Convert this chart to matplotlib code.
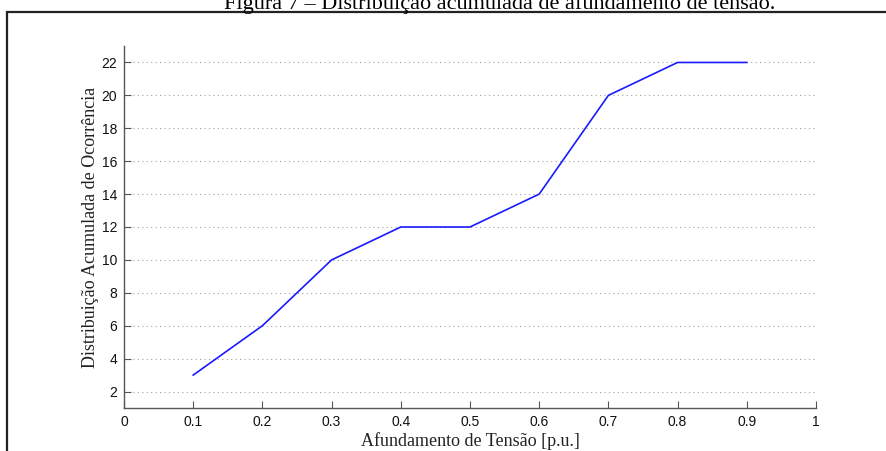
import numpy as np
import matplotlib.pyplot as plt
from matplotlib.patches import Rectangle

# cumulative count of voltage sags per sag magnitude
afundamento = [0.1, 0.2, 0.3, 0.4, 0.5, 0.6, 0.7, 0.8, 0.9]
ocorrencias = [3, 6, 10, 12, 12, 14, 20, 22, 22]
xticks = [0, 0.1, 0.2, 0.3, 0.4, 0.5, 0.6, 0.7, 0.8, 0.9, 1]
xticklabels = ["0", "0.1", "0.2", "0.3", "0.4", "0.5", "0.6", "0.7", "0.8", "0.9", "1"]
yticks = [2, 4, 6, 8, 10, 12, 14, 16, 18, 20, 22]

W, H = 887, 451
fig = plt.figure(figsize=(W / 100, H / 100), dpi=100)

# caption sits above the frame and is partially cut at the top
fig.text(500 / W, 1 - 9 / H, "Figura 7 – Distribuição acumulada de afundamento de tensão.",
         ha="center", va="baseline", fontsize=16, family="Liberation Serif")

# frame around the plot
frame = Rectangle((7 / W, -0.05), 1.0, 1 - 12 / H + 0.05, transform=fig.transFigure,
                  fill=False, edgecolor="#222222", linewidth=1.6, clip_on=False)
fig.patches.append(frame)

ax = fig.add_axes([124 / W, 43 / H, (816 - 124) / W, (408 - 46) / H])
ax.plot(afundamento, ocorrencias, color="#1a1aff", linewidth=1.2)

ax.set_xlim(0, 1)
ax.set_ylim(1, 23)
ax.set_xticks(xticks)
ax.set_xticklabels(xticklabels)
ax.set_yticks(yticks)
ax.grid(axis="y", color="#a0a0a0", linestyle=(0, (1, 3)), linewidth=0.8)

for side in ["top", "right"]:
    ax.spines[side].set_visible(False)
for side in ["left", "bottom"]:
    ax.spines[side].set_color("#555555")
    ax.spines[side].set_linewidth(1.0)

ax.tick_params(direction="in", length=5, width=0.8, color="#555555",
               labelsize=10, labelcolor="#111111", pad=5)
for lbl in ax.get_xticklabels() + ax.get_yticklabels():
    lbl.set_family("Liberation Sans")

ax.set_xlabel("Afundamento de Tensão [p.u.]", family="Liberation Serif", fontsize=13,
              color="#222222", labelpad=2)
ax.set_ylabel("Distribuição Acumulada de Ocorrência", family="Liberation Serif", fontsize=13,
              color="#222222", labelpad=2)

fig.savefig("out.png", dpi=100)
